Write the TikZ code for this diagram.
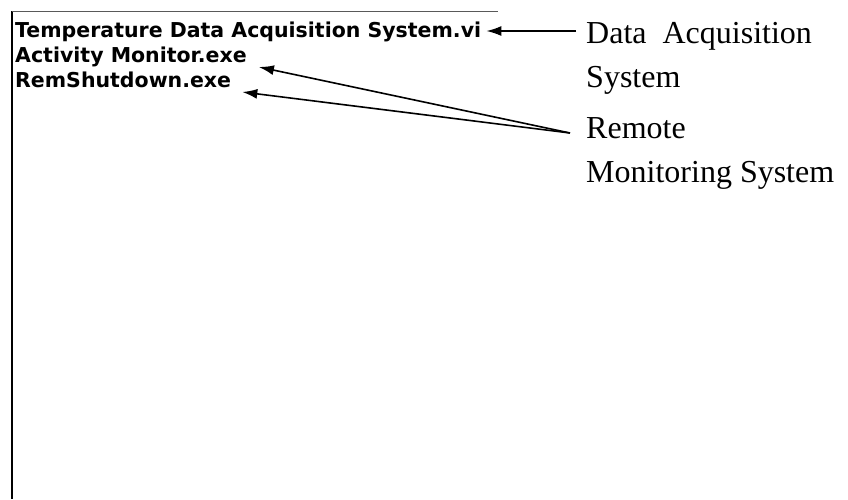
\documentclass[tikz,border=0pt]{standalone}
\usepackage{fontspec}
\setmainfont{Liberation Serif}
\newfontfamily\uifont{DejaVu Sans}
\usetikzlibrary{arrows.meta}
\begin{document}
\begin{tikzpicture}[x=1pt,y=-1pt,
  file/.style={anchor=base west,inner sep=0pt,font=\uifont\bfseries\fontsize{20.5}{23}\selectfont},
  label/.style={anchor=base west,inner sep=0pt,font=\fontsize{32}{44}\selectfont},
  pointer/.style={line width=1.6pt,-{Latex[length=15pt,width=10pt]}}]
  \useasboundingbox (0,0) rectangle (848,499);
  % window frame: left edge and top edge
  \draw[line width=2pt] (12,11) -- (12,499);
  \draw[line width=1pt,black!65] (12,11) -- (498,11);
  % file list
  \node[file] (vi)  at (15,37) {Temperature Data Acquisition System.vi};
  \node[file] (act) at (15,62) {Activity Monitor.exe};
  \node[file] (rem) at (15,87) {RemShutdown.exe};
  % captions
  \node[label] (daq)  at (586,43)  {Data\ \ Acquisition};
  \node[label] (daq2) at (586,87)  {System};
  \node[label] (rms)  at (586,138) {Remote};
  \node[label] (rms2) at (586,182) {Monitoring System};
  % pointers
  \coordinate (daqend) at (576,31);
  \coordinate (fork) at (570,133);
  \coordinate (vitip) at ([xshift=5pt]vi.east);
  \draw[pointer] (daqend) -- (daqend -| vitip);
  \draw[pointer] (fork) -- ([xshift=12pt,yshift=-5pt]act.base east);
  \draw[pointer] (fork) -- ([xshift=11pt,yshift=-5pt]rem.base east);
\end{tikzpicture}
\end{document}
